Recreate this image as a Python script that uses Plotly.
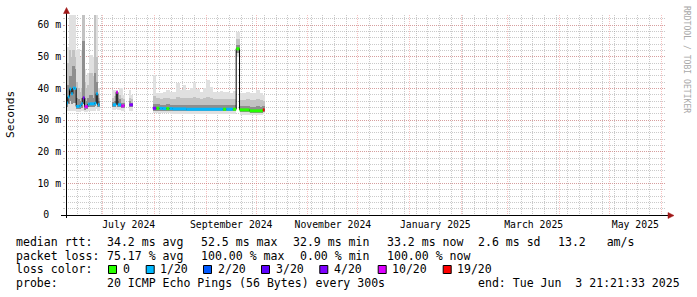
import plotly.graph_objects as go
from datetime import datetime, timedelta

# ---------------- data ----------------
GRAPH_START = datetime(2024, 6, 8, 21, 21, 33)
GRAPH_END = datetime(2025, 6, 3, 21, 21, 33)

bucket_start = [
    "2024-06-09", "2024-06-10", "2024-06-11", "2024-06-12", "2024-06-13",
    "2024-06-14", "2024-06-15", "2024-06-16", "2024-06-17", "2024-06-18",
    "2024-06-19", "2024-06-20", "2024-06-21", "2024-06-22", "2024-06-23",
    "2024-06-24", "2024-06-25", "2024-06-26", "2024-06-27", "2024-06-28",
    "2024-07-07", "2024-07-08", "2024-07-09", "2024-07-10", "2024-07-11",
    "2024-07-12", "2024-07-13",
    "2024-07-17", "2024-07-18",
    "2024-07-31", "2024-08-02", "2024-08-04", "2024-08-06", "2024-08-08",
    "2024-08-10", "2024-08-12", "2024-08-14", "2024-08-16", "2024-08-18",
    "2024-08-20", "2024-08-22", "2024-08-24", "2024-08-26", "2024-08-28",
    "2024-08-30", "2024-09-01", "2024-09-03", "2024-09-05", "2024-09-07",
    "2024-09-09", "2024-09-11", "2024-09-13", "2024-09-15", "2024-09-17",
    "2024-09-19", "2024-09-21", "2024-09-23", "2024-09-25", "2024-09-27",
    "2024-09-29", "2024-10-01", "2024-10-03",
    "2024-10-05",
]
bucket_days = [1] * 29 + [2] * 33 + [1]

# round-trip times in ms
rtt_min = [
    32.8, 33.0, 33.0, 33.0, 33.0, 33.0, 32.5, 32.5, 32.6, 32.8,
    33.0, 32.5, 32.5, 33.0, 33.0, 33.0, 33.0, 33.0, 33.5, 33.0,
    33.3, 33.3, 33.5, 33.3, 33.3, 33.0, 33.0,
    33.0, 33.0,
    32.2, 32.1, 32.1, 32.1, 32.1, 32.0, 32.0, 32.0, 32.0, 32.0,
    32.0, 32.0, 32.0, 32.0, 32.0, 32.0, 32.0, 32.0, 32.0, 32.0,
    32.0, 32.0, 32.0, 32.0, 32.0, 50.0, 31.7, 31.7, 31.7, 31.6,
    31.6, 31.6, 31.6,
    31.8,
]
rtt_q1 = [
    34.0, 35.0, 36.0, 35.0, 35.5, 35.5, 33.5, 33.5, 33.5, 33.8,
    35.0, 33.3, 33.5, 34.0, 34.0, 34.0, 34.0, 34.5, 35.0, 34.0,
    34.0, 34.0, 35.0, 34.0, 34.0, 33.8, 33.8,
    34.0, 34.0,
    32.8, 32.8, 32.8, 32.8, 32.8, 32.7, 32.7, 32.7, 32.7, 32.7,
    32.7, 32.7, 32.7, 32.7, 32.7, 32.7, 32.7, 32.7, 32.7, 32.7,
    32.7, 32.7, 32.7, 32.7, 32.7, 51.2, 32.4, 32.4, 32.4, 32.3,
    32.3, 32.3, 32.3,
    32.4,
]
rtt_median = [
    35.4, 37.3, 39.8, 38.3, 40.1, 40.0, 34.3, 34.3, 34.5, 35.1,
    37.0, 34.2, 34.2, 35.0, 35.1, 35.1, 35.1, 35.3, 38.3, 34.8,
    34.8, 34.8, 38.8, 34.8, 34.8, 34.4, 34.5,
    34.8, 34.8,
    33.7, 33.7, 33.7, 33.6, 33.6, 33.6, 33.5, 33.5, 33.5, 33.5,
    33.4, 33.4, 33.4, 33.4, 33.4, 33.4, 33.4, 33.4, 33.4, 33.4,
    33.4, 33.4, 33.4, 33.4, 33.4, 52.5, 33.2, 33.2, 33.2, 32.9,
    32.9, 32.9, 32.9,
    33.2,
]
rtt_q3 = [
    37.0, 41.0, 44.0, 44.0, 47.0, 46.0, 37.0, 36.5, 36.0, 37.0,
    55.0, 37.0, 36.0, 37.0, 38.0, 38.0, 37.0, 45.0, 42.0, 36.0,
    35.8, 36.0, 39.0, 36.0, 36.5, 35.5, 35.5,
    36.0, 35.5,
    35.0, 34.9, 34.8, 34.8, 34.9, 34.8, 34.7, 34.8, 34.7, 34.8,
    34.7, 34.7, 34.8, 34.7, 34.6, 34.7, 34.8, 34.7, 34.6, 34.6,
    34.6, 34.6, 34.6, 34.6, 34.7, 53.8, 34.4, 34.4, 34.4, 34.2,
    34.2, 34.3, 34.2,
    34.3,
]
rtt_p90 = [
    42.0, 48.0, 52.0, 50.0, 52.0, 50.0, 42.0, 40.0, 39.0, 40.0,
    63.5, 42.0, 40.0, 41.0, 45.0, 45.0, 44.0, 63.5, 50.0, 37.0,
    37.0, 37.5, 39.3, 37.0, 38.0, 37.0, 36.5,
    37.0, 36.5,
    37.6, 36.8, 36.6, 36.8, 37.1, 36.6, 36.6, 37.2, 36.8, 37.1,
    36.8, 36.9, 37.2, 36.8, 36.6, 36.8, 37.4, 36.9, 36.6, 36.6,
    36.6, 36.6, 36.6, 36.5, 36.7, 55.5, 36.4, 36.4, 36.5, 36.3,
    36.2, 36.6, 36.2,
    36.1,
]
rtt_max = [
    53.0, 53.0, 63.5, 63.5, 63.5, 63.5, 52.0, 52.5, 50.0, 52.0,
    63.5, 46.0, 44.0, 45.0, 50.5, 50.5, 50.0, 63.5, 63.5, 40.0,
    39.4, 39.4, 39.6, 38.5, 40.0, 40.0, 38.0,
    39.4, 38.0,
    44.2, 38.6, 38.4, 38.9, 39.5, 38.8, 39.0, 41.6, 39.5, 41.0,
    39.5, 40.0, 42.0, 39.8, 39.0, 40.0, 42.6, 40.5, 39.0, 38.8,
    39.2, 38.9, 38.9, 38.5, 39.3, 57.7, 38.5, 38.6, 38.8, 38.6,
    38.5, 39.5, 38.5,
    38.0,
]
loss = (
    ["1/20"] * 10 + ["4/20", "10/20", "10/20"] + ["1/20"] * 7
    + ["1/20", "1/20", "10/20", "1/20", "1/20", "10/20", "10/20"]
    + ["4/20", "4/20"]
    + ["4/20", "0", "1/20", "1/20", "0", "1/20", "1/20", "1/20", "1/20", "1/20",
       "1/20", "1/20", "1/20", "1/20", "1/20", "1/20", "1/20", "1/20", "1/20", "1/20",
       "1/20", "0", "1/20", "1/20", "0", "0", "0", "0", "0", "0",
       "0", "0", "0"]
    + ["19/20"]
)

loss_labels = ["0", "1/20", "2/20", "3/20", "4/20", "10/20", "19/20"]
loss_colors = ["#26ff00", "#00b8ff", "#0059ff", "#5e00ff", "#7e00ff", "#dd00ff", "#ff0000"]

y_tick_values = [0, 10, 20, 30, 40, 50, 60]
y_tick_text = ["0\u00a0\u00a0", "10 m", "20 m", "30 m", "40 m", "50 m", "60 m"]

legend_rows = [
    [("median rtt:", 16), ("34.2 ms avg", 107.3), ("52.5 ms max", 200.7),
     ("32.9 ms min", 293.3), ("33.2 ms now", 386.7), ("2.6 ms sd", 478.3),
     ("13.2\u00a0\u00a0\u00a0am/s", 558.3)],
    [("packet loss:", 16), ("75.17 % avg", 107.3), ("100.00 % max", 200.7),
     ("0.00 % min", 300.0), ("100.00 % now", 386.7)],
    [("loss color:", 16)],
    [("probe:", 16), ("20 ICMP Echo Pings (56 Bytes) every 300s", 107.3),
     ("end: Tue Jun\u00a0\u00a03 21:21:33 2025", 478.3)],
]
legend_row_y = [241.7, 255.5, 269.2, 282.7]
loss_box_x = [108, 145.7, 203, 261, 319.3, 377.7, 442.7]

# ---------------- geometry helpers ----------------
W, H = 697, 297
L, R, T, B = 66, 31, 15, 82
PW = W - L - R
PH = H - T - B
def pxx(x):
    return (x - L) / PW
def pxy(y):
    return (H - B - y) / PH

MONO = "DejaVu Sans Mono"
MAJ = "rgba(235,90,90,0.38)"
MIN = "rgba(150,150,150,0.5)"

starts = [datetime.strptime(s, "%Y-%m-%d") for s in bucket_start]
ends = [s + timedelta(days=d) for s, d in zip(starts, bucket_days)]
widths = [d * 86400000 for d in bucket_days]

fig = go.Figure()

def band(lo, hi, color):
    fig.add_trace(go.Bar(
        x=starts, base=lo, y=[h - l for l, h in zip(lo, hi)],
        width=widths, offset=0,
        marker=dict(color=color, line=dict(width=0)),
        hoverinfo="skip", showlegend=False))

band(rtt_min, rtt_max, "#e0e0e0")
band(rtt_q1, rtt_p90, "#c2c2c2")
band(rtt_q1, rtt_q3, "#8e8e8e")

# thin black median step line
mx, my = [], []
prev_end = None
for s, e, m in zip(starts, ends, rtt_median):
    if prev_end is not None and s != prev_end:
        mx.append(None); my.append(None)
    mx += [s, e]; my += [m, m]
    prev_end = e
fig.add_trace(go.Scatter(x=mx, y=my, mode="lines", line=dict(color="#000000", width=1),
                         hoverinfo="skip", showlegend=False))

# coloured median by loss class (horizontal runs only)
for lab, col in zip(loss_labels, loss_colors):
    xs, ys = [], []
    prev_end = None
    prev_val = None
    for s, e, m, l in zip(starts, ends, rtt_median, loss):
        if l != lab:
            prev_end = None
            continue
        if prev_end is not None and s == prev_end and m == prev_val:
            xs[-1] = e
        else:
            if xs:
                xs.append(None); ys.append(None)
            xs += [s, e]; ys += [m, m]
        prev_end = e
        prev_val = m
    if xs:
        fig.add_trace(go.Scatter(x=xs, y=ys, mode="lines", line=dict(color=col, width=3),
                                 hoverinfo="skip", showlegend=False))

fig.update_layout(
    width=W, height=H,
    margin=dict(l=L, r=R, t=T, b=B, pad=0),
    paper_bgcolor="white", plot_bgcolor="white",
    barmode="overlay", bargap=0, showlegend=False,
    font=dict(family=MONO, color="black"),
)
fig.update_xaxes(
    type="date", range=[GRAPH_START, GRAPH_END],
    showline=False, zeroline=False, ticks="",
    dtick="M1", tick0="2024-07-01", ticklabelmode="period", ticklabelstep=2,
    tickformat="%B %Y", tickfont=dict(family=MONO, size=9.8, color="black"),
    ticklabelstandoff=2,
    showgrid=True, gridcolor=MAJ, griddash="1px,1px", gridwidth=1,
    minor=dict(dtick=7 * 86400000, tick0="2024-06-02", showgrid=True,
               gridcolor=MIN, griddash="1px,1px", gridwidth=1),
    fixedrange=True,
)
fig.update_yaxes(
    range=[0, 63.16], tickmode="array", tickvals=y_tick_values, ticktext=y_tick_text,
    tickfont=dict(family=MONO, size=9.8, color="black"),
    showline=False, zeroline=False,
    ticks="outside", ticklen=2, tickcolor=MAJ,
    showgrid=True, gridcolor=MAJ, griddash="1px,1px", gridwidth=1,
    minor=dict(tickmode="linear", tick0=0, dtick=2, showgrid=True, gridcolor=MIN,
               griddash="1px,1px", gridwidth=1, ticks="outside", ticklen=2, tickcolor=MIN),
    fixedrange=True,
)

shapes = []
# axes with arrows
shapes.append(dict(type="line", xref="paper", yref="paper",
                   x0=pxx(61), x1=pxx(669), y0=pxy(215.5), y1=pxy(215.5),
                   line=dict(color="black", width=1), layer="above"))
shapes.append(dict(type="line", xref="paper", yref="paper",
                   x0=pxx(66.5), x1=pxx(66.5), y0=pxy(218), y1=pxy(12),
                   line=dict(color="black", width=1), layer="above"))
ARROW = "#a01818"
shapes.append(dict(type="path", xref="paper", yref="paper", layer="above",
                   path=f"M {pxx(668)},{pxy(212.5)} L {pxx(674)},{pxy(215.5)} L {pxx(668)},{pxy(218.5)} Z",
                   fillcolor=ARROW, line=dict(color=ARROW, width=0.5)))
shapes.append(dict(type="path", xref="paper", yref="paper", layer="above",
                   path=f"M {pxx(63.5)},{pxy(13.5)} L {pxx(66.5)},{pxy(7.5)} L {pxx(69.5)},{pxy(13.5)} Z",
                   fillcolor=ARROW, line=dict(color=ARROW, width=0.5)))

annotations = []
def txt(text, x, y, size=11.55, anchor="left", color="black", angle=0):
    annotations.append(dict(text=text, x=pxx(x), y=pxy(y), xref="paper", yref="paper",
                            xanchor=anchor, yanchor="middle", showarrow=False,
                            textangle=angle, borderpad=0, borderwidth=0,
                            font=dict(family=MONO, size=size, color=color)))

for row, yy in zip(legend_rows, legend_row_y):
    for t, xx in row:
        txt(t, xx, yy)

for bx, lab, col in zip(loss_box_x, loss_labels, loss_colors):
    shapes.append(dict(type="rect", xref="paper", yref="paper", layer="above",
                       x0=pxx(bx + 0.5), x1=pxx(bx + 8.5), y0=pxy(265.5), y1=pxy(273.5),
                       fillcolor=col, line=dict(color="black", width=1)))
    txt(lab, bx + 14.5, legend_row_y[2])

txt("Seconds", 10, 115, size=11.2, anchor="center", angle=-90)
txt("RRDTOOL / TOBI OETIKER", 687, 59, size=8.1, anchor="center", color="#a8a8a8", angle=90)

fig.update_layout(shapes=shapes, annotations=annotations)
fig.write_html("out.html")
